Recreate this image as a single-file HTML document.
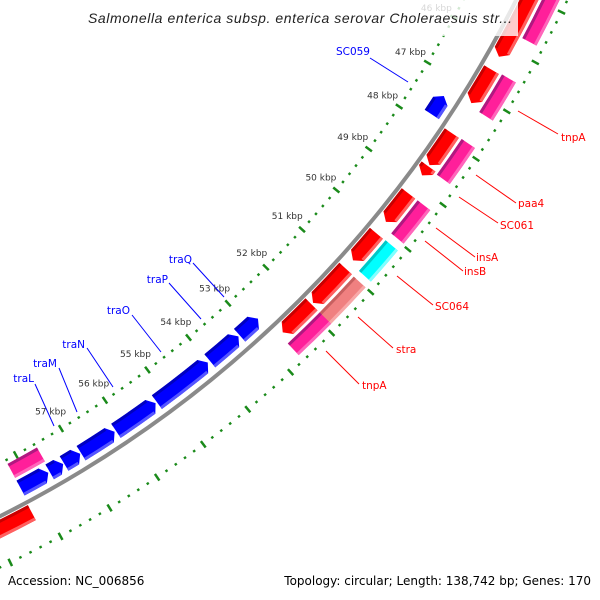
<!DOCTYPE html>
<html><head><meta charset="utf-8"><style>
html,body{margin:0;padding:0;background:#fff;}
svg{display:block;font-family:"DejaVu Sans","Liberation Sans",sans-serif;}
</style></head><body>
<svg id="map" width="600" height="600" viewBox="0 0 600 600" xmlns="http://www.w3.org/2000/svg">
<g id="ticks"></g>
<path id="backbone" fill="none" stroke="#8a8a8a" stroke-width="4"></path>
<g id="genes"></g>
<g id="labels"></g>
<rect x="0" y="0" width="518" height="36" fill="#fff" fill-opacity="0.8"></rect>
<text x="88" y="23" font-family="Liberation Sans, sans-serif" font-style="italic" font-size="14" fill="#222" textLength="424">Salmonella enterica subsp. enterica serovar Choleraesuis str...</text>
<text x="8" y="585" font-size="12" fill="#000">Accession: NC_006856</text>
<text x="591" y="585" font-size="12" fill="#000" text-anchor="end">Topology: circular; Length: 138,742 bp; Genes: 170</text>
</svg>
<script>
// ---- data ----
const geneStart = [47.37,52.78,53.27,54.02,55.25,56.18,56.94,57.31,57.63, 57.58, 44.0,46.50,47.86,48.60,49.21,50.14,50.99,51.89,58.25, 43.0,46.48,47.85,49.21,50.13,51.00,51.89];
const geneEnd   = [47.78,53.24,53.97,55.22,56.15,56.92,57.29,57.60,58.22, 58.22, 46.23,47.21,48.57,48.80,49.87,50.79,51.85,52.62,60.0, 45.73,47.27,48.63,49.97,50.86,51.92,52.69];
const geneStrand= [-1,-1,-1,-1,-1,-1,-1,-1,-1, 0, 1,1,1,1,1,1,1,1,1, 0,0,0,0,0,0,0];
const geneTrack = [-1,-1,-1,-1,-1,-1,-1,-1,-1, -2, 1,1,1,1,1,1,1,1,1, 2,2,2,2,2,2,2];
const geneColor = ['blue','blue','blue','blue','blue','blue','blue','blue','blue','pink','red','red','red','red','red','red','red','red','red','pink','pink','pink','pink','cyan','salmon','pink'];
const tickMajor = [44,45,46,47,48,49,50,51,52,53,54,55,56,57];
const tickLabels = ['44 kbp','45 kbp','46 kbp','47 kbp','48 kbp','49 kbp','50 kbp','51 kbp','52 kbp','53 kbp','54 kbp','55 kbp','56 kbp','57 kbp'];

// ---- geometry ----
const CX=-519, CY=-519;
function ang(k){return (31.57+(k-47)*2.696)*Math.PI/180;}
function P(r,a){return [CX+r*Math.cos(a), CY+r*Math.sin(a)];}
function f(p){return p[0].toFixed(2)+','+p[1].toFixed(2);}
const NS='http://www.w3.org/2000/svg';
function arcPath(r,k0,k1){const a=P(r,ang(k0)),b=P(r,ang(k1));return 'M'+f(a)+' A'+r+','+r+' 0 0 1 '+f(b);}

document.getElementById('backbone').setAttribute('d',arcPath(1158,42,62));

// ticks
const tg=document.getElementById('ticks');
[1111,1204].forEach(function(R){
  for(let i=42*5;i<=62*5;i++){
    const k=i/5, a=ang(k);
    const ln=document.createElementNS(NS,'line');
    
    
    const major=(i%5===0);
    const p0=P(R-(major?4:1.2),a), p1=P(R+(major?4:1.2),a);
    ln.setAttribute('x1',p0[0]);ln.setAttribute('y1',p0[1]);ln.setAttribute('x2',p1[0]);ln.setAttribute('y2',p1[1]);
    ln.setAttribute('stroke','#1a8a1a');ln.setAttribute('stroke-width','2.5');
    tg.appendChild(ln);
  }
});
tickMajor.forEach(function(k,i){
  const p=P(1091,ang(k));
  const t=document.createElementNS(NS,'text');
  
  
  t.setAttribute('x',p[0]);t.setAttribute('y',p[1]+3);
  t.setAttribute('text-anchor','middle');t.setAttribute('font-size','9');t.setAttribute('fill','#333');
  t.textContent=tickLabels[i];
  tg.appendChild(t);
});

// genes
const pal={blue:['#0000ff','#0000c0','#5555ff'],red:['#ff0000','#c80000','#ff6060'],pink:['#ff1f9a','#b01880','#ff66bb'],cyan:['#00ffff','#00c8c8','#80ffff'],salmon:['#f08080','#c86060','#f8a8a8']};
const radii={'-2':[1115,1131],'-1':[1134,1151],'1':[1161,1178],'2':[1181,1197]};
const gg=document.getElementById('genes');
function shape(r0,r1,k0,k1,strand){
  const head=0.12, rm=(r0+r1)/2;
  if(strand===1){
    const kb=Math.max(k0,k1-head);
    return 'M'+f(P(r1,ang(k0)))+' A'+r1+','+r1+' 0 0 1 '+f(P(r1,ang(kb)))+' L'+f(P(rm,ang(k1)))+' L'+f(P(r0,ang(kb)))+' A'+r0+','+r0+' 0 0 0 '+f(P(r0,ang(k0)))+' Z';
  } else if(strand===-1){
    const kb=Math.min(k1,k0+head);
    return 'M'+f(P(rm,ang(k0)))+' L'+f(P(r1,ang(kb)))+' A'+r1+','+r1+' 0 0 1 '+f(P(r1,ang(k1)))+' L'+f(P(r0,ang(k1)))+' A'+r0+','+r0+' 0 0 0 '+f(P(r0,ang(kb)))+' Z';
  }
  return 'M'+f(P(r1,ang(k0)))+' A'+r1+','+r1+' 0 0 1 '+f(P(r1,ang(k1)))+' L'+f(P(r0,ang(k1)))+' A'+r0+','+r0+' 0 0 0 '+f(P(r0,ang(k0)))+' Z';
}
geneStart.forEach(function(s,i){
  const e=geneEnd[i], st=geneStrand[i], rr=radii[String(geneTrack[i])], c=pal[geneColor[i]];
  const g=document.createElementNS(NS,'g');
  
  
  const p=document.createElementNS(NS,'path');
  
  
  p.setAttribute('d',shape(rr[0],rr[1],s,e,st));p.setAttribute('fill',c[0]);
  g.appendChild(p);
  const ks=st===-1?Math.min(e,s+0.12):s, ke=st===1?Math.max(s,e-0.12):e;
  const d=document.createElementNS(NS,'path');
  
  
  d.setAttribute('d',shape(rr[0],rr[0]+3,ks,ke,0));d.setAttribute('fill',c[1]);
  g.appendChild(d);
  const l=document.createElementNS(NS,'path');
  
  
  l.setAttribute('d',shape(rr[1]-3,rr[1],ks,ke,0));l.setAttribute('fill',c[2]);
  g.appendChild(l);
  gg.appendChild(g);
});

// labels with leader lines
const labs=[
 ['tnpA','red',518,111,558,134,561,141,'start'],
 ['paa4','red',476,175,516,203,518,207,'start'],
 ['SC061','red',459,197,498,223,500,229,'start'],
 ['insA','red',436,228,475,257,476,261,'start'],
 ['insB','red',425,241,463,271,464,275,'start'],
 ['SC064','red',397,276,433,305,435,310,'start'],
 ['stra','red',358,317,393,348,396,353,'start'],
 ['tnpA','red',326,351,359,384,362,389,'start'],
 ['SC059','blue',408,82,370,58,370,55,'end'],
 ['traQ','blue',224,297,193,263,192,263,'end'],
 ['traP','blue',201,319,169,283,168,283,'end'],
 ['traO','blue',161,352,132,315,130,314,'end'],
 ['traN','blue',113,387,87,348,85,348,'end'],
 ['traM','blue',77,412,59,368,57,367,'end'],
 ['traL','blue',54,426,35,384,34,382,'end']
];
const lg=document.getElementById('labels');
labs.forEach(function(L){
  const col=L[1]==='red'?'#ff0000':'#0000ff';
  const ln=document.createElementNS(NS,'line');
  
  
  ln.setAttribute('x1',L[2]);ln.setAttribute('y1',L[3]);ln.setAttribute('x2',L[4]);ln.setAttribute('y2',L[5]);
  ln.setAttribute('stroke',col);ln.setAttribute('stroke-width','1');
  lg.appendChild(ln);
  const t=document.createElementNS(NS,'text');
  
  
  t.setAttribute('x',L[6]);t.setAttribute('y',L[7]);t.setAttribute('text-anchor',L[8]);
  t.setAttribute('font-size','10.5');t.setAttribute('fill',col);
  t.textContent=L[0];
  lg.appendChild(t);
});
</script>
</body></html>
